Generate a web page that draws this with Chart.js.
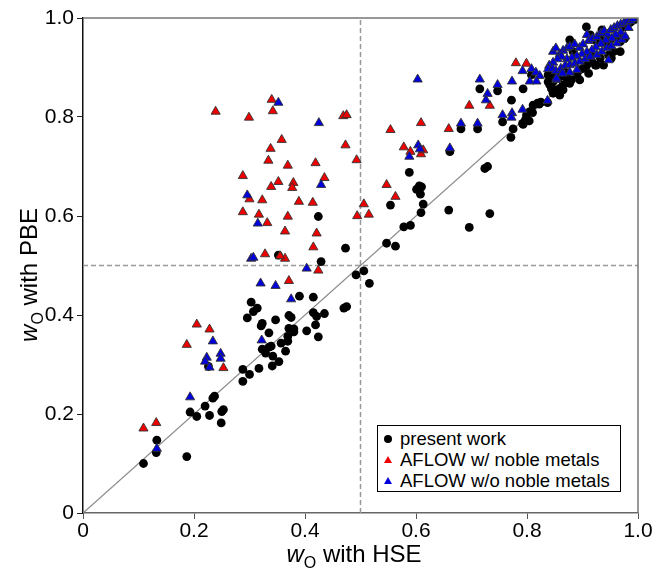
<!DOCTYPE html>
<html>
<head>
<meta charset="utf-8">
<script src="https://cdn.jsdelivr.net/npm/chart.js@4.4.0/dist/chart.umd.min.js"></script>
<style>
  body { margin: 0; background: #fff; }
  #wrap { position: relative; width: 658px; height: 575px; }
  #legend {
    position: absolute; left: 377px; top: 425px; width: 244px; height: 67px;
    box-sizing: border-box; border: 1px solid #000; background: #fff;
    font-family: "Liberation Sans", Arial, sans-serif; font-size: 18.5px; color: #000;
    padding-top: 2px;
  }
  .row { position: relative; height: 21px; line-height: 21px; padding-left: 22px; white-space: nowrap; }
  .mk { position: absolute; left: 6px; top: 7px; }
</style>
</head>
<body>
<div id="wrap">
  <canvas id="myChart" width="658" height="575"></canvas>
  <div id="legend"></div>
</div>
<script>
// w_O values, HSE (x) vs PBE (y)
const presentX = [0.109,0.132,0.133,0.187,0.193,0.205,0.220,0.228,0.237,0.234,0.250,0.253,0.249,0.226,0.288,0.288,0.300,0.317,0.341,0.353,0.365,0.357,0.369,0.342,0.329,0.323,0.335,0.339,0.335,0.321,0.323,0.347,0.296,0.307,0.314,0.303,0.371,0.375,0.371,0.380,0.369,0.390,0.415,0.403,0.419,0.424,0.415,0.421,0.435,0.470,0.475,0.429,0.492,0.506,0.516,0.424,0.473,0.352,0.380,
  0.554,0.547,0.563,0.578,0.590,0.588,0.606,0.610,0.601,0.608,0.613,0.609,0.659,0.733,0.696,0.661,0.724,0.729,0.681,0.711,0.715,0.747,0.793,0.772,0.756,0.775,0.771,0.793,0.804,0.810,0.822,0.837,
  0.841,0.849,0.865,0.856,0.872,0.880,0.895,0.925,0.914,0.932,0.950,0.847,0.865,0.859,0.845,0.808,0.907,0.914,0.935,0.877,0.883,0.926,0.945,0.947,0.917,0.923,0.901,0.890,0.872,0.877,0.865,0.859,0.853,0.841,0.844,0.838,0.847,0.811,0.819,0.825,0.805,0.799,0.797,0.792,0.859,0.847,0.838,0.974,0.981,0.962,0.956,0.968,0.932,0.938,0.911,0.895,0.986,0.952,0.968,0.976,0.908,0.993];
const presentY = [0.100,0.122,0.147,0.114,0.204,0.195,0.216,0.197,0.236,0.232,0.205,0.209,0.182,0.296,0.290,0.266,0.280,0.292,0.297,0.306,0.327,0.343,0.347,0.317,0.323,0.331,0.335,0.337,0.364,0.378,0.383,0.390,0.394,0.407,0.414,0.426,0.399,0.395,0.373,0.366,0.357,0.438,0.436,0.368,0.380,0.356,0.405,0.397,0.403,0.414,0.417,0.508,0.481,0.489,0.464,0.599,0.535,0.521,0.372,
  0.622,0.545,0.539,0.578,0.581,0.688,0.661,0.659,0.654,0.644,0.624,0.607,0.612,0.605,0.577,0.730,0.696,0.700,0.776,0.776,0.857,0.853,0.857,0.834,0.790,0.776,0.759,0.785,0.792,0.809,0.826,0.829,
  0.868,0.855,0.855,0.851,0.888,0.875,0.895,0.905,0.929,0.958,0.956,0.892,0.895,0.881,0.881,0.885,0.982,0.966,0.976,0.956,0.932,0.952,0.944,0.925,0.912,0.905,0.898,0.885,0.878,0.868,0.865,0.858,0.851,0.865,0.857,0.871,0.871,0.824,0.828,0.830,0.811,0.804,0.794,0.787,0.844,0.848,0.885,0.982,0.987,0.962,0.932,0.952,0.919,0.905,0.888,0.875,0.991,0.919,0.932,0.959,0.905,0.996];

const nobleX = [0.109,0.132,0.205,0.228,0.187,0.253,0.371,0.424,0.364,
  0.239,0.299,0.340,0.342,0.469,0.475,0.358,0.338,0.334,0.369,0.419,0.473,0.493,0.288,0.352,0.379,0.377,0.339,0.435,0.300,0.323,0.389,0.414,0.288,0.317,0.369,0.332,0.494,0.364,0.421,0.415,0.328,0.355,
  0.506,0.515,0.554,0.609,0.659,0.696,0.733,0.780,0.799,0.578,0.590,0.609,0.613,0.547,0.563];
const nobleY = [0.171,0.182,0.381,0.371,0.340,0.293,0.469,0.490,0.514,
  0.811,0.799,0.835,0.812,0.802,0.804,0.754,0.736,0.712,0.702,0.707,0.743,0.713,0.681,0.669,0.667,0.657,0.659,0.677,0.634,0.632,0.629,0.627,0.608,0.603,0.599,0.586,0.600,0.569,0.565,0.537,0.523,0.519,
  0.624,0.603,0.774,0.788,0.776,0.823,0.823,0.909,0.908,0.739,0.730,0.725,0.733,0.663,0.639];

const noNobleX = [0.234,0.248,0.248,0.223,0.220,0.228,0.193,0.133,0.320,0.347,0.375,0.322,0.403,
  0.352,0.425,0.429,0.296,0.315,0.303,0.307,
  0.603,0.715,0.747,0.773,0.729,0.726,0.681,0.711,0.756,0.773,0.772,0.792,0.604,0.607,0.588,0.661,0.792,0.808,0.816,0.823,0.805,0.817,0.837,0.853,
  0.847,0.852,0.859,0.865,0.872,0.877,0.886,0.895,0.901,0.908,0.911,0.918,0.926,0.933,0.939,0.945,0.951,0.957,0.963,0.969,0.975,0.981,0.983,0.969,0.960,0.953,0.942,0.933,0.924,0.917,0.908,0.899,0.890,0.881,0.872,0.862,0.855,0.847,0.840,0.838,0.846,0.852,0.861,0.869,0.877,0.886,0.895,0.905,0.914,0.926,0.935,0.944,0.952,0.962,0.971,0.977,0.947,0.853,0.877,0.890,0.864,0.987,0.991];
const noNobleY = [0.347,0.322,0.312,0.314,0.306,0.294,0.234,0.130,0.464,0.459,0.432,0.349,0.494,
  0.829,0.788,0.663,0.642,0.585,0.514,0.516,
  0.876,0.876,0.865,0.872,0.847,0.834,0.787,0.787,0.804,0.808,0.799,0.815,0.743,0.735,0.720,0.737,0.893,0.897,0.890,0.883,0.872,0.872,0.833,0.875,
  0.932,0.939,0.927,0.934,0.939,0.942,0.947,0.940,0.947,0.966,0.954,0.958,0.962,0.969,0.974,0.967,0.976,0.980,0.984,0.987,0.990,0.993,0.980,0.971,0.966,0.959,0.955,0.948,0.941,0.935,0.931,0.927,0.923,0.920,0.917,0.922,0.917,0.910,0.904,0.897,0.897,0.893,0.898,0.904,0.905,0.908,0.912,0.917,0.922,0.925,0.932,0.939,0.943,0.949,0.956,0.963,0.915,0.878,0.890,0.895,0.888,0.994,0.998];

const seriesLabels = ['present work', 'AFLOW w/ noble metals', 'AFLOW w/o noble metals'];
const tickValues = [0, 0.2, 0.4, 0.6, 0.8, 1.0];
const parityEnds = [0, 1];
const splitValue = 0.5;

const toPoints = function (xs, ys) {
  return xs.map((x, i) => ({ x: x, y: ys[i] }));
}

// top and right frame lines
const frame = {
  id: 'frame',
  afterDraw(chart) {
    const ctx = chart.ctx;
    const a = chart.chartArea;
    ctx.save();
    ctx.strokeStyle = '#777';
    ctx.lineWidth = 1.5;
    ctx.beginPath();
    ctx.moveTo(a.left, a.top);
    ctx.lineTo(a.right, a.top);
    ctx.lineTo(a.right, a.bottom);
    ctx.stroke();
    ctx.restore();
  }
};

const drawTitle = function (ctx, method, cx, cy, angle) {
  const big = '24px "Liberation Sans", Arial, sans-serif';
  const ital = 'italic ' + big;
  const sub = '16px "Liberation Sans", Arial, sans-serif';
  const rest = ' with ' + method;
  ctx.save();
  ctx.translate(cx, cy);
  ctx.rotate(angle);
  ctx.fillStyle = '#000';
  ctx.textBaseline = 'alphabetic';
  ctx.textAlign = 'left';
  ctx.font = ital; const w1 = ctx.measureText('w').width;
  ctx.font = sub; const w2 = ctx.measureText('O').width;
  ctx.font = big; const w3 = ctx.measureText(rest).width;
  let x = -(w1 + w2 + w3) / 2;
  ctx.font = ital; ctx.fillText('w', x, 0); x += w1;
  ctx.font = sub; ctx.fillText('O', x, 6); x += w2;
  ctx.font = big; ctx.fillText(rest, x, 0);
  ctx.restore();
}

const axisTitles = {
  id: 'axisTitles',
  afterDraw(chart) {
    drawTitle(chart.ctx, 'HSE', 354, 562, 0);
    drawTitle(chart.ctx, 'PBE', 37, 275, -Math.PI / 2);
  }
};

const tickText = v => (v === 0 ? '0' : v.toFixed(1));
const tickFont = { family: '"Liberation Sans", Arial, sans-serif', size: 21 };

const data = {
  datasets: [
    {
      label: seriesLabels[0],
      data: toPoints(presentX, presentY),
      pointStyle: 'circle',
      pointRadius: 4.4,
      backgroundColor: '#000',
      borderColor: '#000',
      borderWidth: 0,
      order: 3
    },
    {
      label: seriesLabels[1],
      data: toPoints(nobleX, nobleY),
      pointStyle: 'triangle',
      pointRadius: 5.3,
      backgroundColor: '#ee0000',
      borderColor: '#333',
      borderWidth: 0.9,
      order: 2
    },
    {
      label: seriesLabels[2],
      data: toPoints(noNobleX, noNobleY),
      pointStyle: 'triangle',
      pointRadius: 5.3,
      backgroundColor: '#0000dd',
      borderColor: '#333',
      borderWidth: 0.9,
      order: 1
    },
    {
      label: 'parity',
      data: toPoints(parityEnds, parityEnds),
      showLine: true,
      pointRadius: 0,
      borderColor: '#8a8a8a',
      borderWidth: 1.3,
      order: 6
    },
    {
      label: 'x split',
      data: toPoints([splitValue, splitValue], parityEnds),
      showLine: true,
      pointRadius: 0,
      borderColor: '#999',
      borderWidth: 1.5,
      borderDash: [5, 3],
      order: 5
    },
    {
      label: 'y split',
      data: toPoints(parityEnds, [splitValue, splitValue]),
      showLine: true,
      pointRadius: 0,
      borderColor: '#999',
      borderWidth: 1.5,
      borderDash: [5, 3],
      order: 5
    }
  ]
};

const config = {
  type: 'scatter',
  data: data,
  options: {
    responsive: false,
    animation: false,
    layout: { padding: { top: 18, right: 20, left: 0, bottom: 0 } },
    plugins: { legend: { display: false }, tooltip: { enabled: false } },
    scales: {
      x: {
        type: 'linear', min: 0, max: 1,
        afterBuildTicks: s => { s.ticks = tickValues.map(v => ({ value: v })); },
        afterFit: s => { s.height = 62; },
        ticks: { callback: tickText, font: tickFont, color: '#000', padding: 0, maxRotation: 0 },
        grid: { drawOnChartArea: false, drawTicks: true, tickLength: 6, color: '#555' },
        border: { color: '#666', width: 1.5 }
      },
      y: {
        type: 'linear', min: 0, max: 1,
        afterBuildTicks: s => { s.ticks = tickValues.map(v => ({ value: v })); },
        afterFit: s => { s.width = 83; },
        ticks: { callback: tickText, font: tickFont, color: '#000', padding: 3 },
        grid: { drawOnChartArea: false, drawTicks: true, tickLength: 6, color: '#222' },
        border: { color: '#111', width: 1.5 }
      }
    }
  },
  plugins: [frame, axisTitles]
};

const myChart = new Chart(document.getElementById('myChart'), config);

// legend box inside the plot, built from the first three datasets
const legendBox = document.getElementById('legend');
myChart.data.datasets.slice(0, 3).forEach(ds => {
  const row = document.createElement('div');
  row.className = 'row';
  const mk = document.createElement('span');
  mk.className = 'mk';
  if (ds.pointStyle === 'circle') {
    mk.style.cssText = 'width:8px;height:8px;border-radius:50%;background:#000;left:6px;top:7px;';
  } else {
    mk.style.cssText = 'width:0;height:0;border-left:4px solid transparent;border-right:4px solid transparent;' +
      'border-bottom:7px solid ' + ds.backgroundColor + ';left:6px;top:7px;';
  }
  row.appendChild(mk);
  row.appendChild(document.createTextNode(ds.label));
  legendBox.appendChild(row);
});
</script>
</body>
</html>
